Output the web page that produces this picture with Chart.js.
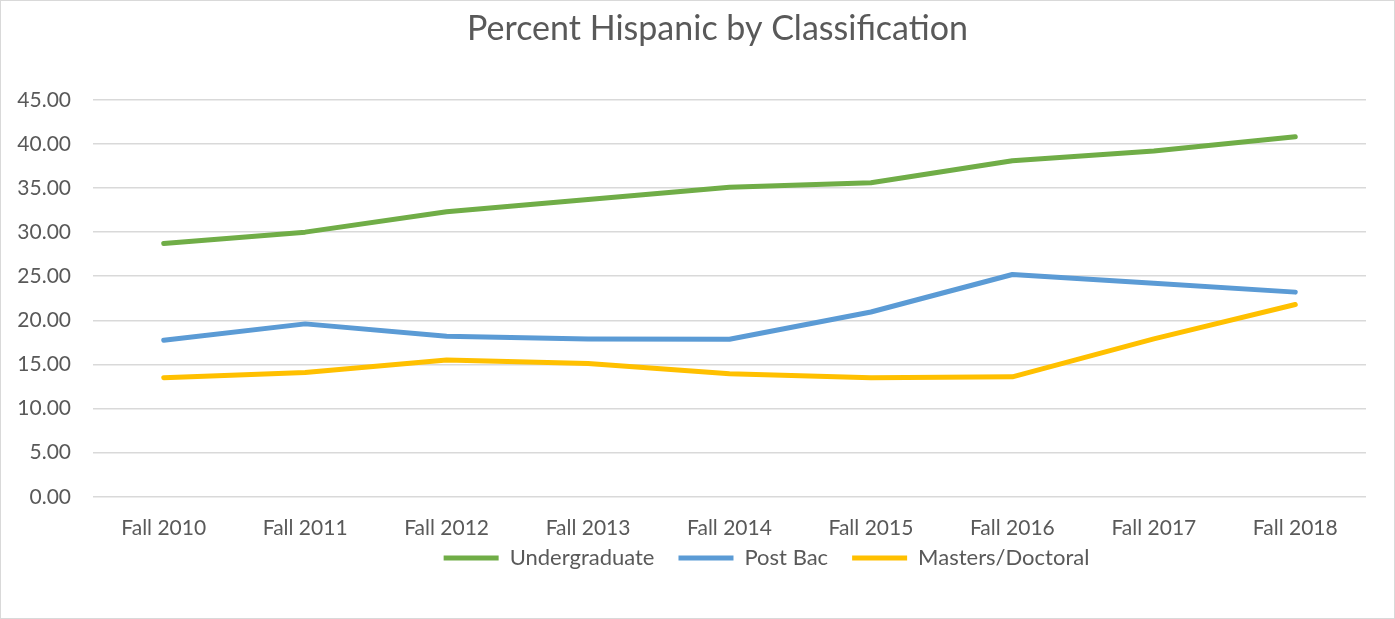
<!DOCTYPE html>
<html>
<head>
<meta charset="utf-8">
<script src="https://cdn.jsdelivr.net/npm/chart.js@4"></script>
<style>
  html, body { margin: 0; padding: 0; background: #fff; }
  #wrap { position: relative; width: 1393px; height: 617px; border: 1px solid #d9d9d9; }
</style>
</head>
<body>
<div id="wrap"><canvas id="lineChart"></canvas></div>
<script>
// Data
const terms = ['Fall 2010', 'Fall 2011', 'Fall 2012', 'Fall 2013', 'Fall 2014', 'Fall 2015', 'Fall 2016', 'Fall 2017', 'Fall 2018'];
const undergraduate = [28.7, 30.0, 32.3, 33.7, 35.1, 35.6, 38.1, 39.2, 40.8];
const postBac = [17.75, 19.6, 18.2, 17.9, 17.85, 20.95, 25.2, 24.2, 23.2];
const mastersDoctoral = [13.5, 14.1, 15.5, 15.1, 13.95, 13.5, 13.6, 17.9, 21.8];
const yTicks = [0, 5, 10, 15, 20, 25, 30, 35, 40, 45];

const textColor = '#595959';
const fontFamily = 'Lato, "Open Sans", sans-serif';

const ctx = document.getElementById('lineChart').getContext('2d');

function series(label, data, color) {
    return {
        label: label,
        data: data,
        borderColor: color,
        backgroundColor: color,
        borderWidth: 5,
        pointRadius: 0,
        pointHoverRadius: 0,
        tension: 0,
        borderCapStyle: 'round',
        borderJoinStyle: 'round',
        fill: false
    };
}

// Excel centres title and legend a bit differently, nudge them over
const nudgeBoxes = {
    id: 'nudgeBoxes',
    afterLayout(chart) {
        chart.legend.left += 83;
        chart.legend.right += 83;
        chart.legend.top -= 29;
        chart.legend.bottom -= 29;
        chart.titleBlock.left += 34;
        chart.titleBlock.right += 34;
    }
};

new Chart(ctx, {
    type: 'line',
    data: {
        labels: terms,
        datasets: [
            series('Undergraduate', undergraduate, '#70AD47'),
            series('Post Bac', postBac, '#5B9BD5'),
            series('Masters/Doctoral', mastersDoctoral, '#FFC000')
        ]
    },
    plugins: [nudgeBoxes],
    options: {
        responsive: true,
        maintainAspectRatio: false,
        animation: false,
        layout: { padding: { left: 0, right: 28, top: 0, bottom: 10 } },
        plugins: {
            title: {
                display: true,
                text: 'Percent Hispanic by Classification',
                color: textColor,
                font: { family: fontFamily, size: 34, weight: 'normal' },
                padding: { top: 8, bottom: 50 }
            },
            legend: {
                position: 'bottom',
                labels: {
                    color: textColor,
                    font: { family: fontFamily, size: 22 },
                    usePointStyle: true,
                    pointStyle: 'line',
                    pointStyleWidth: 55,
                    boxHeight: 5,
                    padding: 24
                }
            },
            tooltip: { enabled: false }
        },
        scales: {
            x: {
                offset: true,
                grid: { display: false },
                border: { display: false },
                ticks: {
                    color: textColor,
                    font: { family: fontFamily, size: 21 },
                    padding: 11,
                    maxRotation: 0
                }
            },
            y: {
                min: 0,
                max: 45,
                afterBuildTicks: function(scale) {
                    scale.ticks = yTicks.map(v => ({ value: v }));
                },
                afterFit: function(scale) {
                    scale.width = 92;
                },
                grid: { color: '#d9d9d9', lineWidth: 1.5, drawTicks: false },
                border: { display: false },
                ticks: {
                    color: textColor,
                    font: { family: fontFamily, size: 21 },
                    padding: 22,
                    callback: function(value) { return Number(value).toFixed(2); }
                }
            }
        }
    }
});
</script>
</body>
</html>
